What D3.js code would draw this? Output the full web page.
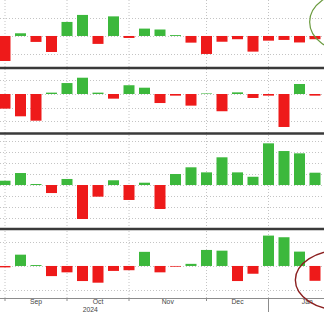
<!DOCTYPE html>
<head>
  <meta charset="utf-8">
  <script src="https://cdnjs.cloudflare.com/ajax/libs/d3/7.8.5/d3.min.js"></script>
  <style>
    body { margin:0; background:#fff; }
    svg { display:block; }
    text { font-family: "Liberation Sans", Arial, sans-serif; }
  </style>
</head>

<body>
  <script>
    // weekly observations (Fridays)
    var weeks = ["2024-09-06","2024-09-13","2024-09-20","2024-09-27","2024-10-04","2024-10-11","2024-10-18",
                 "2024-10-25","2024-11-01","2024-11-08","2024-11-15","2024-11-22","2024-11-29","2024-12-06",
                 "2024-12-13","2024-12-20","2024-12-27","2025-01-03","2025-01-10","2025-01-17","2025-01-24"];

    var panel1 = [-13.9, 1.5, -3.3, -8.9, 7.8, 11.7, -4.4, 10.9, -1.1, 4.1, 3.6, 0.5, -3.7, -10, -3.2, -1.8, -8.7, -2.6, -2.2, -3.6, -1.8];
    var panel2 = [-10.7, -16.3, -19.5, 1.0, 8.0, 11.9, 1.0, -3.4, 6.4, 4.6, -6.6, -1.2, -8.5, 0.4, -12.6, 1.2, -2.9, -1.2, -24.1, 7.3, -1.2];
    var panel3 = [3.9, 10.9, 0.9, -7.3, 5.5, -30.9, -10.6, 4.3, -13.6, 2.1, -21.8, 10, 16.1, 11.5, 25.2, 11.5, 7.5, 37.9, 30.9, 28.8, 11.2];
    var panel4 = [-0.6, 4.8, 0.4, -4.3, -2.7, -6.4, -7.1, -2.1, -1.8, 6.0, -2.7, -0.3, 0.9, 6.8, 6.5, -6.4, -3.3, 12.9, 12.2, 6.1, -6.3];

    var months = ["2024-09-01","2024-10-01","2024-11-01","2024-12-01","2025-01-01","2025-02-01"];
    var monthLabels = ["Sep","Oct","Nov","Dec","Jan"];
    var yearLabel = "2024";

    var W = 324, H = 312;
    var GREEN = "#3cb83c", RED = "#ee1a1a";

    var parse = d3.timeParse("%Y-%m-%d");
    var d0 = parse(weeks[0]);
    function idx(d) { return Math.round((d - d0) / (7 * 864e5)); }

    var x = d3.scaleLinear().domain([0, weeks.length - 1]).range([5, 315]);
    var barW = 11;

    // first week index of each month
    var monthIdx = months.map(function(m){ return idx(d3.timeFriday.ceil(parse(m))); });

    var panels = [
      {values: panel1, range: [68, 0],    domain: [-17.8, 20],   ticks: [10, 0, -10]},
      {values: panel2, range: [133, 68],  domain: [-28.5, 19],   ticks: [10, 0, -10, -20]},
      {values: panel3, range: [229, 133], domain: [-40, 47.3],   ticks: [40, 30, 20, 10, 0, -10, -20, -30]},
      {values: panel4, range: [298, 229], domain: [-13.6, 15.7], ticks: [10, 0, -10]}
    ];

    var svg = d3.select("body").append("svg")
      .attr("width", W)
      .attr("height", H);

    // vertical month gridlines
    svg.append("g").selectAll("line").data(monthIdx.slice(0, monthLabels.length)).enter().append("line")
      .attr("x1", function(d){ return x(d); })
      .attr("x2", function(d){ return x(d); })
      .attr("y1", 0).attr("y2", 298)
      .style("stroke", "#c4c4c4").style("stroke-dasharray", "1,2");

    panels.forEach(function(p){
      var y = d3.scaleLinear().domain(p.domain).range(p.range);
      var g = svg.append("g");

      g.selectAll("line").data(p.ticks).enter().append("line")
        .attr("x1", 0).attr("x2", W)
        .attr("y1", function(d){ return Math.round(y(d)) + 0.5; })
        .attr("y2", function(d){ return Math.round(y(d)) + 0.5; })
        .style("stroke", "#c4c4c4").style("stroke-dasharray", "1,2");

      g.selectAll("rect").data(p.values).enter().append("rect")
        .attr("x", function(d, i){ return x(i) - barW / 2; })
        .attr("width", barW)
        .attr("y", function(d){ return y(Math.max(0, d)); })
        .attr("height", function(d){ return Math.abs(y(d) - y(0)); })
        .style("fill", function(d){ return d >= 0 ? GREEN : RED; });
    });

    // thick panel separators
    svg.append("g").selectAll("line").data([68, 133.5, 229]).enter().append("line")
      .attr("x1", 0).attr("x2", W)
      .attr("y1", function(d){ return d; }).attr("y2", function(d){ return d; })
      .style("stroke", "#3a3a3a").style("stroke-width", 2.6);

    // bottom axis
    var axisY = 298;
    svg.append("line").attr("x1", 0).attr("x2", W).attr("y1", axisY + 0.5).attr("y2", axisY + 0.5)
      .style("stroke", "#8c8c8c");
    svg.append("g").selectAll("line").data(monthIdx.slice(0, monthLabels.length)).enter().append("line")
      .attr("x1", function(d){ return x(d); }).attr("x2", function(d){ return x(d); })
      .attr("y1", axisY).attr("y2", function(d, i){ return monthLabels[i] == "Jan" ? H : axisY + 3; })
      .style("stroke", "#8c8c8c");

    svg.append("g").selectAll("text").data(monthLabels).enter().append("text")
      .attr("x", function(d, i){ return x((monthIdx[i] + monthIdx[i + 1]) / 2); })
      .attr("y", 304)
      .attr("text-anchor", "middle")
      .style("font-size", "6.8px").style("fill", "#444")
      .text(function(d){ return d; });

    svg.append("text")
      .attr("x", x(5.5)).attr("y", 312)
      .attr("text-anchor", "middle")
      .style("font-size", "6.8px").style("fill", "#444")
      .text(yearLabel);

    // hand-drawn style annotations
    var y1 = d3.scaleLinear().domain(panels[0].domain).range(panels[0].range);
    var y4 = d3.scaleLinear().domain(panels[3].domain).range(panels[3].range);
    svg.append("ellipse")
      .attr("cx", x(22.3)).attr("cy", y1(7.8)).attr("rx", 41).attr("ry", 30)
      .style("fill", "none").style("stroke", "#6a9a3e").style("stroke-width", 1.2);
    svg.append("ellipse")
      .attr("cx", x(21.7)).attr("cy", y4(-6)).attr("rx", 46).attr("ry", 30)
      .style("fill", "none").style("stroke", "#8b1f1f").style("stroke-width", 1.4);
  </script>
</body>
